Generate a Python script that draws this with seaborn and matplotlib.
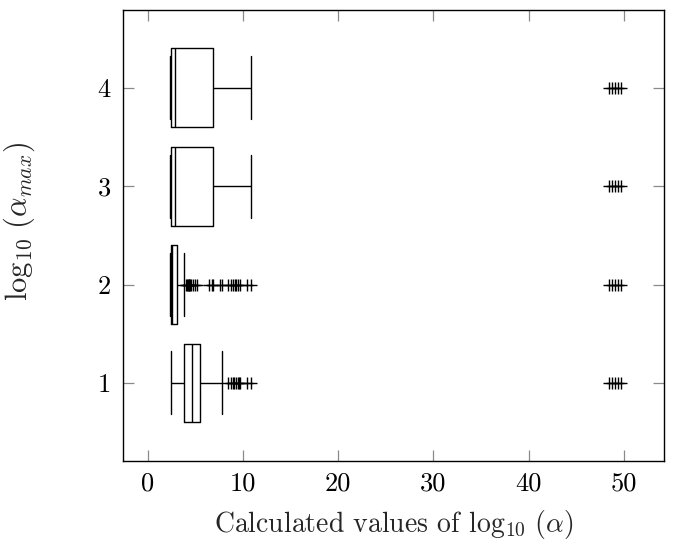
import numpy as np
import pandas as pd
import matplotlib
matplotlib.use("Agg")
import matplotlib.pyplot as plt
import seaborn as sns

# log10(alpha_max) levels
levels = [1, 2, 3, 4]

# five-number summaries of log10(alpha) per level
whisker_low = [2.44, 2.30, 2.31, 2.31]
quartile_1 = [3.78, 2.47, 2.45, 2.45]
medians = [4.62, 2.58, 2.90, 2.90]
quartile_3 = [5.46, 3.10, 6.86, 6.86]
whisker_high = [7.82, 3.82, 10.82, 10.82]

# values beyond the upper whisker
far_outliers = [48.5, 48.8, 49.1, 49.4, 49.75]
outliers = [
    [8.47, 8.72, 8.93, 9.06, 9.30, 9.48, 9.62, 9.70, 10.46, 10.82] + far_outliers,
    [4.08, 4.15, 4.22, 4.30, 4.38, 4.45, 4.52, 4.73, 4.94, 5.15,
     6.47, 6.72, 6.89, 7.63, 7.80, 8.47, 8.75, 8.96, 9.13, 9.30,
     9.48, 9.66, 10.46, 10.82] + far_outliers,
    list(far_outliers),
    list(far_outliers),
]

x_ticks = [0, 10, 20, 30, 40, 50]


def expand_summary(lo, q1, med, q3, hi, fl):
    """Sorted sample of 4k+1 values whose linear quartiles are q1, med, q3."""
    k = len(fl) + 2
    top = [q3] * (k - 1 - len(fl)) + [hi] + sorted(fl)
    return [lo] + [q1] * k + [med] * k + [q3] * k + top


rows = []
for lev, lo, q1, md, q3, hi, fl in zip(levels, whisker_low, quartile_1, medians,
                                       quartile_3, whisker_high, outliers):
    for v in expand_summary(lo, q1, md, q3, hi, fl):
        rows.append({"level": lev, "value": v})
df = pd.DataFrame(rows)

sns.set_theme(style="ticks")
plt.rcParams["font.family"] = ["cmr10", "DejaVu Serif"]
plt.rcParams["mathtext.fontset"] = "cm"
plt.rcParams["axes.unicode_minus"] = False
plt.rcParams["axes.formatter.use_mathtext"] = True

fig = plt.figure(figsize=(6.75, 5.44), dpi=100)
ax = fig.add_axes([0.1827, 0.1531, 0.9833 - 0.1827, 0.9816 - 0.1531])

sns.boxplot(
    data=df, x="value", y="level", orient="y", native_scale=True,
    fill=False, color="black", linecolor="black", linewidth=1.0,
    width=0.8, whis=1.5, capwidths=0.64, ax=ax,
    flierprops=dict(marker="+", markersize=9, markeredgewidth=1.0,
                    markeredgecolor="black"),
)

ax.set_xlim(-2.55, 54.2)
ax.set_ylim(0.21, 4.79)
ax.set_xticks(x_ticks)
ax.set_xticklabels([str(t) for t in x_ticks])
ax.set_yticks(levels)
ax.set_yticklabels([str(l) for l in levels])

ax.tick_params(axis="both", direction="in", top=True, right=True,
               length=8, width=0.9, color="#8a8a8a", labelsize=19,
               labelcolor="black")
ax.tick_params(axis="x", pad=8)
ax.tick_params(axis="y", pad=9)
for s in ax.spines.values():
    s.set_visible(True)
    s.set_color("black")
    s.set_linewidth(1.0)

ax.set_xlabel(r"Calculated values of $\log_{10}\,(\alpha)$", fontsize=20)
ax.set_ylabel(r"$\log_{10}\,(\alpha_{max})$", fontsize=22)
ax.xaxis.set_label_coords(0.5, -0.105)
ax.yaxis.set_label_coords(-0.16, 0.53)

fig.savefig("out.png", dpi=100)
